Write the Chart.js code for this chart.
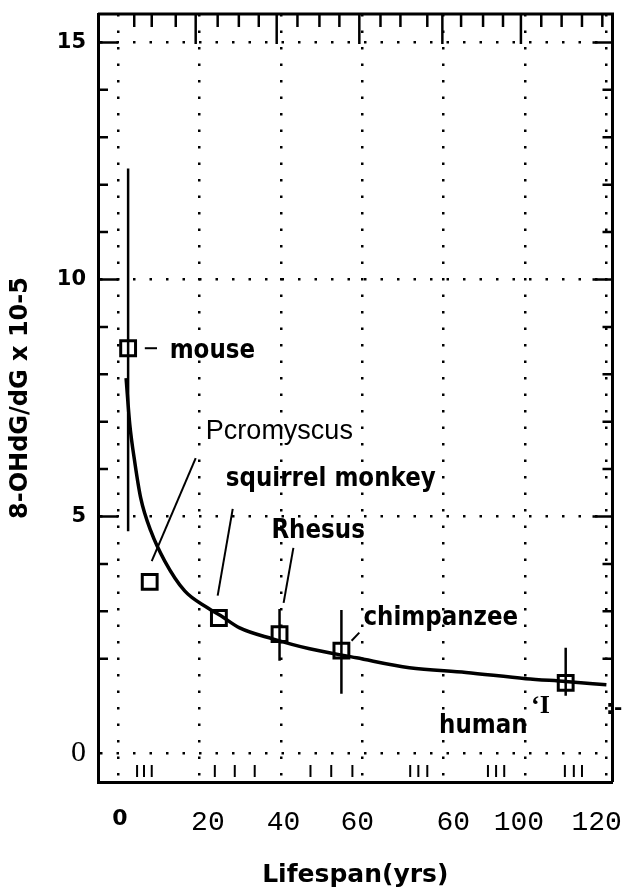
<!DOCTYPE html>
<html>
<head>
<meta charset="utf-8">
<script src="https://cdn.jsdelivr.net/npm/chart.js@4.4.0/dist/chart.umd.min.js"></script>
<style>
  html, body { margin: 0; background: #fff; }
  #wrap { width: 626px; height: 888px; }
</style>
</head>
<body>
<div id="wrap"><canvas id="chart"></canvas></div>
<script>
// species means and error bars
const species  = ['mouse', 'Pcromyscus', 'squirrel monkey', 'Rhesus', 'chimpanzee', 'human'];
const lifespan = [2.5, 7.8, 24.8, 39.7, 54.9, 110];
const ratio    = [8.55, 3.62, 2.86, 2.52, 2.17, 1.49];
const errLow   = [4.69, null, null, 1.96, 1.26, 1.22];
const errHigh  = [12.34, null, null, 3.05, 3.03, 2.23];

// fitted curve, traced by eye
const curveX = [2.0, 2.9, 4.2, 5.6, 8.1, 11.5, 16.4, 22.1, 25.2, 29.9, 38.0, 47.1, 58.6, 71.6, 85.5, 100.2, 110, 120];
const curveY = [7.92, 6.95, 6.11, 5.39, 4.69, 4.06, 3.43, 3.07, 2.91, 2.65, 2.42, 2.21, 2.02, 1.81, 1.71, 1.58, 1.52, 1.45];

// axes (the printed labels sit a little off the dotted grid, and one "80" reads "60")
const xGrid = [0, 20, 40, 60, 80, 100, 120];
const xLabelPos = [0.5, 22.1, 40.7, 58.8, 82.4, 98.5, 117.6];
const xTickLabels = ['0', '20', '40', '60', '60', '100', '120'];
const yTicks = [0, 5, 10, 15];
const yMinor = [2, 3, 4, 5, 6, 7, 8, 9, 10, 11, 12, 13, 14, 15];
const topMinor = [4, 8.3, 14.2, 19.1, 24.5, 29.7, 34.6, 39, 44.1, 49.5, 54.4, 59.3, 64.5, 69.4, 76, 79.7, 84.3, 89.7, 94.6, 99, 104, 109, 114, 119];
const topMajor = [19.1, 39, 59.3, 79.7, 99];
const bottomMinor = [4.7, 6.4, 8.3, 23.8, 28.7, 33.6, 47.3, 52.4, 57.6, 71.8, 73.8, 76, 90.9, 92.9, 94.9, 109.8, 112, 114];

const errData = [];
lifespan.forEach((x, i) => {
    if (errLow[i] === null) return;
    errData.push({ x, y: errLow[i] }, { x, y: errHigh[i] }, { x, y: null });
});

const boldSans = (size) => `bold ${size}px "DejaVu Sans", sans-serif`;

// frame, inward ticks, labels and leader lines
const decor = {
    id: 'decor',
    beforeDatasetsDraw(chart) {
        const { ctx, chartArea: a, scales: { x, y } } = chart;
        ctx.save();
        ctx.strokeStyle = '#000';
        ctx.lineWidth = 3;
        ctx.beginPath();
        ctx.moveTo(a.left, a.top); ctx.lineTo(a.right, a.top); ctx.lineTo(a.right, a.bottom);
        ctx.stroke();

        ctx.lineWidth = 2.5;
        yMinor.forEach(v => {
            const py = y.getPixelForValue(v);
            const len = v % 5 === 0 ? 20 : 10;
            ctx.beginPath();
            ctx.moveTo(a.left, py); ctx.lineTo(a.left + len, py);
            ctx.moveTo(a.right, py); ctx.lineTo(a.right - len, py);
            ctx.stroke();
        });
        topMinor.forEach(v => {
            const px = x.getPixelForValue(v);
            const len = topMajor.includes(v) ? 30 : 13;
            ctx.beginPath();
            ctx.moveTo(px, a.top); ctx.lineTo(px, a.top + len);
            ctx.stroke();
        });
        ctx.lineWidth = 2;
        bottomMinor.forEach(v => {
            const px = x.getPixelForValue(v);
            ctx.beginPath();
            ctx.moveTo(px, a.bottom - 5); ctx.lineTo(px, a.bottom - 17);
            ctx.stroke();
        });
        ctx.restore();
    },
    afterDatasetsDraw(chart) {
        const { ctx, scales: { x, y } } = chart;
        const leaders = [
            [6.6, 8.55, 9.6, 8.55],
            [19.1, 6.23, 8.3, 4.06],
            [28.2, 5.16, 24.5, 3.33],
            [43.1, 4.34, 40.7, 3.18],
            [57.4, 2.38, 59.3, 2.55]
        ];
        const notes = [
            { text: species[0], x: 12.7, y: 8.5, font: boldSans(23), stretch: 1.18 },
            { text: species[1], x: 21.6, y: 6.8, font: '27px "Liberation Sans", Arial, sans-serif', stretch: 1 },
            { text: species[2], x: 26.5, y: 5.79, font: boldSans(23), stretch: 1.18 },
            { text: species[3], x: 37.7, y: 4.69, font: boldSans(23), stretch: 1.18 },
            { text: species[4], x: 60.3, y: 2.86, font: boldSans(23), stretch: 1.18 },
            { text: species[5], x: 78.9, y: 0.59, font: boldSans(23), stretch: 1.18 },
            { text: '\u2018I', x: 101.5, y: 0.99, font: 'bold 26px "Liberation Serif", serif', stretch: 1 },
            { text: ':-', x: 119.9, y: 0.95, font: boldSans(20), stretch: 1 }
        ];
        ctx.save();
        ctx.strokeStyle = '#000';
        ctx.lineWidth = 2;
        leaders.forEach(([x0, y0, x1, y1]) => {
            ctx.beginPath();
            ctx.moveTo(x.getPixelForValue(x0), y.getPixelForValue(y0));
            ctx.lineTo(x.getPixelForValue(x1), y.getPixelForValue(y1));
            ctx.stroke();
        });
        ctx.fillStyle = '#000';
        ctx.textAlign = 'left';
        ctx.textBaseline = 'middle';
        notes.forEach(n => {
            ctx.save();
            ctx.translate(x.getPixelForValue(n.x), y.getPixelForValue(n.y));
            ctx.scale(1, n.stretch);
            ctx.font = n.font;
            ctx.fillText(n.text, 0, 0);
            ctx.restore();
        });
        ctx.restore();
    }
};

const dotted = { color: '#000', lineWidth: 2.5 };

new Chart(document.getElementById('chart'), {
    data: {
        datasets: [
            { type: 'line', data: errData, borderColor: '#000', borderWidth: 2.5, pointRadius: 0,
              spanGaps: false, order: 1 },
            { type: 'scatter', data: lifespan.map((x, i) => ({ x, y: ratio[i] })), pointStyle: 'rect',
              pointRadius: 10.5, borderWidth: 3, borderColor: '#000', backgroundColor: 'rgba(0,0,0,0)', order: 2 },
            { type: 'line', data: curveX.map((x, i) => ({ x, y: curveY[i] })), borderColor: '#000',
              borderWidth: 3.5, pointRadius: 0, cubicInterpolationMode: 'monotone', order: 3 }
        ]
    },
    options: {
        responsive: true,
        maintainAspectRatio: false,
        animation: false,
        layout: { padding: { top: 14, right: 12, left: 0, bottom: 0 } },
        plugins: { legend: { display: false }, tooltip: { enabled: false } },
        scales: {
            x: {
                type: 'linear', min: -4.9, max: 121.5,
                afterBuildTicks: s => { s.ticks = xLabelPos.map(v => ({ value: v })); },
                afterFit: s => { s.height = 106; s.paddingLeft = 0; s.paddingRight = 0; },
                grid: { display: false, drawTicks: false },
                border: { display: true, color: '#000', width: 3 },
                ticks: {
                    padding: 24, color: '#000', maxRotation: 0, autoSkip: false,
                    callback: (v, i) => xTickLabels[i],
                    font: c => c.index === 0
                        ? { family: '"DejaVu Sans", sans-serif', size: 22, weight: 'bold' }
                        : { family: '"Liberation Mono", "Courier New", monospace', size: 28 }
                },
                title: { display: true, text: 'Lifespan(yrs)', color: '#000',
                         font: { family: '"DejaVu Sans", sans-serif', size: 25, weight: 'bold', lineHeight: 1 },
                         padding: { top: 0, bottom: 0 } }
            },
            xg: {
                type: 'linear', position: 'top', min: -4.9, max: 121.5,
                afterBuildTicks: s => { s.ticks = xGrid.map(v => ({ value: v })); },
                afterFit: s => { s.height = 0; s.paddingLeft = 0; s.paddingRight = 0; },
                grid: { ...dotted, drawTicks: false },
                border: { display: false, dash: [2.5, 14] },
                ticks: { display: false }
            },
            y: {
                type: 'linear', min: -0.6, max: 15.6,
                afterBuildTicks: s => { s.ticks = yTicks.map(v => ({ value: v })); },
                afterFit: s => { s.width = 98; s.paddingTop = 0; s.paddingBottom = 0; },
                grid: { ...dotted, drawTicks: false },
                border: { display: true, color: '#000', width: 3, dash: [2.5, 14] },
                ticks: {
                    padding: 12, color: '#000',
                    font: c => c.tick && c.tick.value === 0
                        ? { family: '"Liberation Serif", serif', size: 30 }
                        : { family: '"DejaVu Sans", sans-serif', size: 21, weight: 'bold' }
                },
                title: { display: true, text: '8-OHdG/dG x 10-5', color: '#000',
                         font: { family: '"DejaVu Sans", sans-serif', size: 24, weight: 'bold', lineHeight: 1 },
                         padding: { top: 9, bottom: 0 } }
            }
        }
    },
    plugins: [decor]
});
</script>
</body>
</html>
